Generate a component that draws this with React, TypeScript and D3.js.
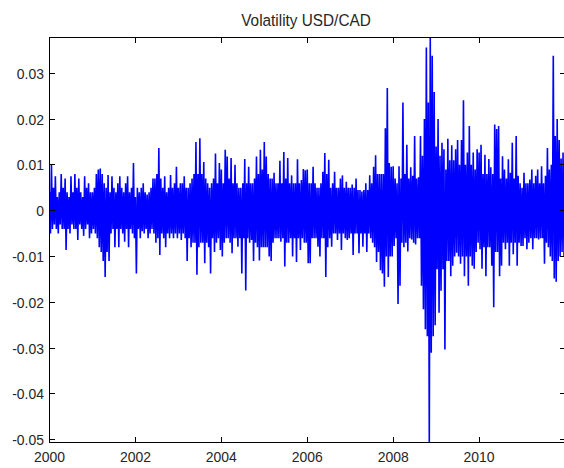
import React, { useEffect, useRef } from "react";
import * as d3 from "d3";

// one row of samples per year, values in thousandths
// (alternating high / low so the dense daily trace fills in like the original)
const years = [2000, 2001, 2002, 2003, 2004, 2005, 2006, 2007, 2008, 2009, 2010, 2011];

const v2000 = [4, -5, 10, -4, 5, -3, 7.5, -4, 3, -5, 4, -3, 8, -4, 5, -4, 7, -8.6, 4, -4, 3, -5, 7.5, -3, 4, -4, 8, -4, 5, -6.4, 7, -3, 4, -4, 3, -5.5, 7.5, -4, 5, -3, 6, -6, 4, -5];
const v2001 = [4, -4, 5, -5, 8, -6, 9, -8, 9.2, -9, 8, -11, 6, -14.5, 5, -9, 7.8, -11, 4, -5, 7.5, -4, 5, -8, 4, -4, 6, -8, 7.5, -4, 5, -5, 4, -6.8, 6, -4, 7.5, -8, 4, -4, 5, -5, 10.4, -6];
const v2002 = [3, -13.7, 5, -4, 4, -6, 5, -4.5, 6, -5, 4, -4, 3.5, -6, 4, -5, 5, -4, 7, -5, 7, -7, 8, -6, 13.7, -9.7, 7, -5, 5, -6, 7.5, -8, 4, -5, 5, -6, 7.8, -5, 5, -6, 6, -5, 9.6, -6];
const v2003 = [5, -5, 6, -6.4, 6, -5, 7.5, -6, 5, -11, 5, -6, 6, -8, 7, -7, 8, -7, 15, -14, 8, -8, 15.8, -7, 8, -7, 10.6, -11.5, 7, -7, 6, -8, 5, -13.7, 6, -6, 7, -9, 12.5, -7, 6, -6, 10.4, -8.6];
const v2004 = [9, -10, 6, -7, 13.3, -6, 11.8, -6, 7, -7, 11.5, -9.3, 6, -6, 10, -6, 6, -7.9, 5, -6, 5, -13.7, 6, -6, 11.3, -17.4, 6, -6, 9.6, -7, 6, -6.4, 6, -11, 7, -7, 11.8, -8, 8, -10.9, 13.3, -8, 9, -8];
const v2005 = [15, -8, 11.8, -8, 8, -10, 7, -11, 7, -7, 8.3, -6, 6, -6, 6, -6, 10.9, -6.8, 6, -6, 12.8, -12.2, 7, -7, 11.5, -7, 6, -6, 7.7, -10, 6, -6, 6, -11.2, 11.2, -6, 6, -8.6, 6.7, -6, 9.1, -7, 8.8, -7];
const v2006 = [9, -11.5, 6, -11.5, 6, -6, 9.6, -6, 6, -6, 5, -7.9, 5, -10, 6, -6, 8.5, -6, 12.6, -14.5, 8, -8, 11.1, -6, 5, -7.9, 6, -5, 8.5, -5, 5, -6.4, 5, -5, 7, -8.6, 7.7, -5, 5, -6, 6.3, -6.4, 5, -6];
const v2007 = [5, -5, 5.7, -9.7, 5, -5, 7, -5, 4.5, -9.3, 4.5, -5, 4.2, -7.9, 4.5, -5, 6, -9, 4.5, -5, 7.7, -6, 6, -7, 9.6, -8, 12.1, -11.2, 8, -9, 8, -13, 8, -13.7, 8, -16.6, 18, -10, 26.8, -14.5, 10.4, -10, 9.6, -10];
const v2008 = [9.7, -7.7, 7, -6, 6, -20.4, 9.7, -16.4, 7, -7, 23.6, -8, 8, -7, 14.4, -8.9, 7, -6, 9.5, -6.3, 7.6, -7, 16.3, -7.4, 7, -6, 7.3, -6, 16.3, -16.4, 12, -21.5, 20, -25.9, 35.6, -27.4, 23.6, -50.5, 37.8, -31, 33.8, -27.4, 25.9, -25];
const v2009 = [14, -12.8, 20, -22.3, 12, -17.5, 14.8, -12.8, 13.4, -30.3, 9, -11, 15.7, -11, 11, -14.3, 14.3, -12, 11, -10, 13.4, -9.2, 15.4, -10, 10, -11.6, 15.4, -10, 24.1, -14.3, 10, -10, 12.7, -16.4, 18.5, -10, 10, -12, 12.7, -12.7, 9, -9, 13.4, -7];
const v2010 = [12.7, -8.4, 14.4, -12.7, 8, -8, 12.2, -14.3, 8, -8, 11.3, -8, 9.5, -12, 8, -21.1, 18.8, -9, 17.8, -9, 18.5, -14.3, 7, -12, 11.9, -7, 9, -8.4, 7, -7, 11.2, -12, 8.3, -7, 14.8, -9.5, 7, -7, 16.3, -12, 7.6, -7, 6, -7.7];
const v2011 = [5, -7.7, 8.3, -6, 6, -8.4, 6, -7, 6.8, -6, 9, -8.4, 6, -6, 7.6, -6, 9, -6.3, 6, -6, 9.7, -6, 6, -11.6, 7.6, -7, 13.7, -8, 9, -10, 10, -11, 33.8, -14.8, 16.3, -15.5, 20, -11, 15.4, -10, 11.4, -9, 12.7, -10];

const seriesByYear = [v2000, v2001, v2002, v2003, v2004, v2005, v2006, v2007, v2008, v2009, v2010, v2011];

const xTicks = [2000, 2002, 2004, 2006, 2008, 2010];
const yTicks = [0.03, 0.02, 0.01, 0, -0.01, -0.02, -0.03, -0.04, -0.05];
const yLabels = ["0.03", "0.02", "0.01", "0", "-0.01", "-0.02", "-0.03", "-0.04", "-0.05"];
const title = "Volatility USD/CAD";

const App = () => {
  const svgRef = useRef<SVGSVGElement>(null);

  useEffect(() => {
    const width = 564;
    const height = 468;
    const plot = { left: 49.5, right: 565, top: 37.5, bottom: 442 };
    const font = "'Liberation Sans', Arial, sans-serif";
    const textColor = "#262626";
    const squeeze = 0.93; // the screenshot is slightly narrower than tall

    const data = years.flatMap((yr, k) =>
      seriesByYear[k].map((v, i, arr) => ({ t: yr + i / arr.length, v: v / 1000 }))
    );

    const x = d3.scaleLinear().domain([2000, 2012]).range([plot.left, plot.right]);
    const y = d3
      .scaleLinear()
      .domain(d3.extent(data, (d) => d.v) as [number, number])
      .range([plot.bottom, plot.top]);

    const svg = d3.select(svgRef.current);
    svg.selectAll("*").remove();

    svg.append("rect").attr("width", width).attr("height", height).attr("fill", "#fff");

    svg
      .append("clipPath")
      .attr("id", "plot-clip")
      .append("rect")
      .attr("x", plot.left)
      .attr("y", plot.top)
      .attr("width", plot.right - plot.left)
      .attr("height", plot.bottom - plot.top);

    // the return series
    svg
      .append("path")
      .datum(data)
      .attr("clip-path", "url(#plot-clip)")
      .attr("fill", "none")
      .attr("stroke", "#0000ff")
      .attr("stroke-width", 1.6)
      .attr("stroke-linejoin", "miter")
      .attr("stroke-miterlimit", 1)
      .attr(
        "d",
        d3
          .line<{ t: number; v: number }>()
          .x((d) => x(d.t))
          .y((d) => y(d.v))
      );

    // axes box
    const axes = svg.append("g").attr("shape-rendering", "crispEdges").attr("stroke", "#000");
    axes
      .append("rect")
      .attr("x", plot.left)
      .attr("y", plot.top)
      .attr("width", plot.right - plot.left)
      .attr("height", plot.bottom - plot.top)
      .attr("fill", "none");

    const tick = 5;
    xTicks.forEach((t) => {
      const px = x(t);
      axes.append("line").attr("x1", px).attr("x2", px).attr("y1", plot.bottom).attr("y2", plot.bottom - tick);
      axes.append("line").attr("x1", px).attr("x2", px).attr("y1", plot.top).attr("y2", plot.top + tick);
    });
    yTicks.forEach((v) => {
      const py = y(v);
      axes.append("line").attr("x1", plot.left).attr("x2", plot.left + tick).attr("y1", py).attr("y2", py);
      axes.append("line").attr("x1", plot.right).attr("x2", plot.right - tick).attr("y1", py).attr("y2", py);
    });

    // tick labels
    svg
      .append("g")
      .selectAll("text")
      .data(xTicks)
      .join("text")
      .attr("transform", (t) => `translate(${x(t)},${461.5}) scale(${squeeze},1)`)
      .attr("text-anchor", "middle")
      .attr("font-family", font)
      .attr("font-size", 15)
      .attr("fill", textColor)
      .text((t) => String(t));

    svg
      .append("g")
      .selectAll("text")
      .data(yTicks)
      .join("text")
      .attr("transform", (v) => `translate(${44},${y(v) + 5.5}) scale(${squeeze},1)`)
      .attr("text-anchor", "end")
      .attr("font-family", font)
      .attr("font-size", 15)
      .attr("fill", textColor)
      .text((v, i) => yLabels[i]);

    svg
      .append("text")
      .attr("transform", `translate(${306},${26}) scale(${squeeze},1)`)
      .attr("text-anchor", "middle")
      .attr("font-family", font)
      .attr("font-size", 16.5)
      .attr("fill", textColor)
      .text(title);
  }, []);

  return (
    <svg
      ref={svgRef}
      width={564}
      height={468}
      style={{ position: "absolute", left: 0, top: 0, display: "block" }}
    ></svg>
  );
};

export default App;
